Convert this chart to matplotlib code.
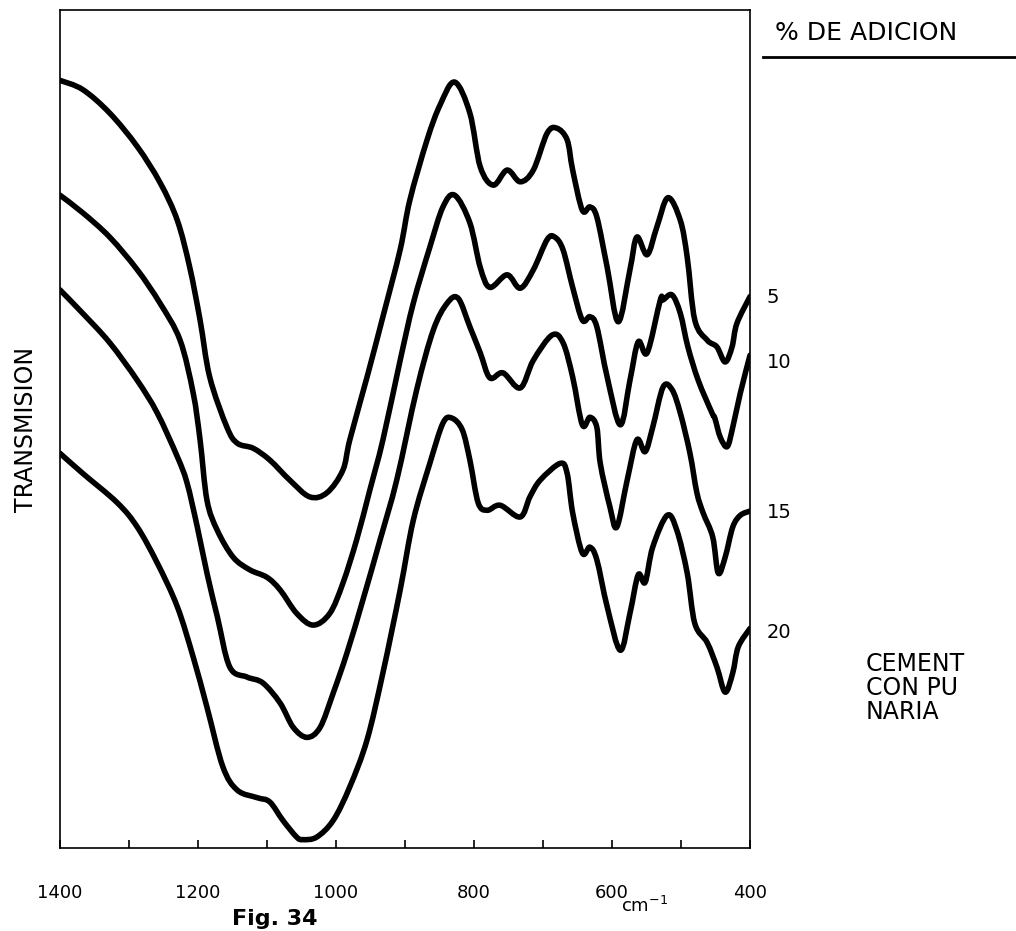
import numpy as np
import matplotlib.pyplot as plt
from matplotlib.lines import Line2D
from matplotlib.path import Path
from matplotlib.patches import PathPatch

# IR transmission spectra, wavenumber (cm-1) vs transmission (arbitrary units)
wn_5 = [1400, 1367, 1328, 1288, 1255, 1230, 1212, 1197, 1183, 1158, 1143, 1120,
        1096, 1067, 1038, 1013, 990, 980, 955, 932, 907, 893, 868, 849, 828,
        806, 791, 772, 752, 733, 714, 694, 680, 665, 657, 643, 632, 622, 607,
        591, 574, 564, 549, 535, 519, 501, 491, 480, 462, 448, 436, 426, 419, 400]
t_5 = [91.6, 90.5, 87.7, 83.7, 79.4, 74.9, 69.3, 63.0, 56.2, 50.2, 48.3, 47.7,
       46.3, 43.9, 41.9, 42.4, 45.1, 48.7, 56.2, 63.4, 71.4, 77.3, 84.5, 88.7, 91.4,
       87.7, 81.3, 79.1, 80.9, 79.5, 80.9, 85.3, 85.9, 84.5, 80.9, 76.1, 76.5, 75.3, 69.3,
       62.8, 69.0, 72.9, 70.8, 74.1, 77.6, 74.9, 70.5, 63.0, 60.6, 59.8, 58.0, 59.8, 62.6, 65.8]

wn_10 = [1400, 1367, 1328, 1288, 1255, 1226, 1207, 1197, 1187, 1172, 1149, 1125,
         1100, 1081, 1057, 1033, 1009, 990, 970, 951, 932, 907, 888, 864, 845,
         828, 806, 791, 777, 752, 733, 714, 694, 683, 671, 657, 643, 632, 622,
         607, 588, 574, 562, 549, 530, 526, 513, 501, 490, 475, 455, 451, 443,
         433, 425, 414, 400]
t_10 = [77.9, 75.8, 72.9, 69.0, 65.0, 60.6, 54.3, 48.7, 41.5, 37.9, 34.7, 33.2,
        32.3, 30.8, 28.0, 26.6, 28.0, 31.6, 36.8, 42.7, 48.7, 58.2, 65.0, 71.7, 76.5,
        77.9, 74.6, 69.3, 66.9, 68.4, 66.8, 69.0, 72.6, 72.9, 71.4, 66.9, 63.0, 63.4, 62.2,
        56.2, 50.5, 55.8, 60.4, 59.1, 65.4, 65.4, 66.0, 63.8, 59.8, 55.8, 51.9, 51.3, 49.0,
        47.9, 50.2, 54.3, 58.8]

wn_15 = [1400, 1367, 1328, 1288, 1259, 1230, 1216, 1201, 1187, 1172, 1154, 1129,
         1106, 1081, 1062, 1042, 1023, 1004, 984, 961, 936, 912, 883, 859, 839,
         823, 806, 791, 777, 758, 733, 714, 687, 671, 657, 643, 632, 622, 617,
         603, 593, 578, 564, 552, 541, 526, 513, 501, 487, 477, 468, 454, 446,
         436, 425, 414, 400]
t_15 = [66.6, 63.8, 60.3, 55.8, 51.9, 46.7, 43.6, 38.3, 32.8, 27.6, 21.6, 20.4,
        19.7, 17.3, 14.4, 13.2, 14.4, 18.5, 23.3, 29.6, 36.8, 43.9, 54.7, 61.8, 65.0,
        65.6, 62.2, 59.1, 56.1, 56.7, 54.9, 58.2, 61.2, 60.3, 56.2, 50.5, 51.4, 50.2, 45.9,
        40.7, 38.3, 43.9, 48.7, 47.3, 50.2, 55.0, 54.7, 51.9, 47.1, 42.4, 40.0, 37.1, 32.8,
        34.7, 38.3, 39.7, 40.2]

wn_20 = [1400, 1367, 1317, 1288, 1259, 1230, 1207, 1187, 1164, 1143, 1114, 1096,
         1077, 1057, 1048, 1028, 1004, 980, 955, 932, 907, 888, 864, 845, 832,
         817, 806, 794, 781, 762, 733, 719, 704, 675, 665, 657, 643, 632, 622,
         607, 588, 574, 562, 552, 541, 520, 506, 491, 480, 462, 448, 436, 425,
         417, 400]
t_20 = [47.1, 44.7, 41.2, 38.3, 34.0, 28.8, 22.8, 16.8, 9.7, 6.9, 6.0, 5.5,
        3.3, 1.3, 1.0, 1.3, 3.3, 7.3, 12.9, 20.9, 30.8, 39.1, 45.9, 50.7, 51.3,
        49.9, 46.3, 41.2, 40.3, 40.9, 39.5, 41.9, 43.9, 45.9, 44.7, 40.0, 35.2, 35.9, 34.4,
        28.8, 23.6, 28.0, 32.6, 31.7, 35.9, 39.7, 37.9, 32.8, 26.8, 24.5, 21.6, 18.6, 20.9,
        24.0, 26.2]

spectra = [(wn_5, t_5), (wn_10, t_10), (wn_15, t_15), (wn_20, t_20)]
additions = ['5', '10', '15', '20']

major_ticks = [1400, 1200, 1000, 800, 600, 400]
minor_ticks = [1300, 1100, 900, 700, 500]

W, H = 1016, 931


def fx(px):
    return px / W


def fy(py):
    return 1 - py / H


def smooth_path(x, y):
    # cubic bezier segments through every point (catmull-rom tangents)
    p = np.column_stack([x, y]).astype(float)
    ext = np.vstack([p[0], p, p[-1]])
    verts = [p[0]]
    codes = [Path.MOVETO]
    for i in range(len(p) - 1):
        p0, p1, p2, p3 = ext[i], ext[i + 1], ext[i + 2], ext[i + 3]
        verts += [p1 + (p2 - p0) / 6, p2 - (p3 - p1) / 6, p2]
        codes += [Path.CURVE4] * 3
    return Path(verts, codes)


fig = plt.figure(figsize=(W / 100, H / 100), dpi=100)
ax = fig.add_axes([fx(60), fy(848), 690 / W, 838 / H])

for wn, t in spectra:
    ax.add_patch(PathPatch(smooth_path(wn, t), fill=False, edgecolor='black',
                           lw=4, joinstyle='round', capstyle='round'))

ax.set_xlim(1400, 400)
ax.set_ylim(0, 100)
ax.set_yticks([])
ax.set_xticks(major_ticks)
ax.set_xticks(minor_ticks, minor=True)
ax.tick_params(axis='x', which='both', direction='in', length=6, width=1.2,
               labelsize=13, pad=26)
for s in ax.spines.values():
    s.set_linewidth(1.2)

ax.set_ylabel('TRANSMISION', fontsize=17, labelpad=16)

# curve labels at the right edge
label_y = [298, 362, 513, 632]
for lab, py in zip(additions, label_y):
    fig.text(fx(767), fy(py), lab, fontsize=14, va='center', ha='left')

fig.text(fx(775), fy(33), '% DE ADICION', fontsize=18, va='center', ha='left')
fig.add_artist(Line2D([fx(763), fx(1016)], [fy(57), fy(57)], color='black',
                      lw=2, transform=fig.transFigure))

for i, line in enumerate(['CEMENT', 'CON PU', 'NARIA']):
    fig.text(fx(866), fy(664 + 24 * i), line, fontsize=17, va='center', ha='left')

fig.text(fx(645), fy(906), 'cm$^{-1}$', fontsize=13, va='center', ha='center')
fig.text(fx(232), fy(929), 'Fig. 34', fontsize=16, fontweight='bold',
         va='bottom', ha='left')

fig.savefig('out.png', dpi=100)
